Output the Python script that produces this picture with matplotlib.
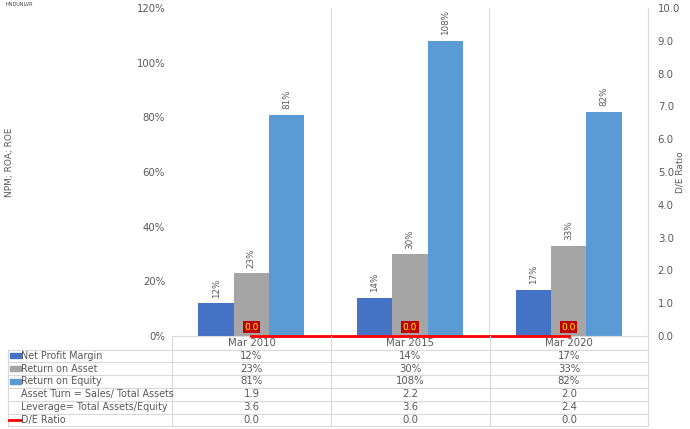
import numpy as np
import matplotlib.pyplot as plt
from matplotlib.lines import Line2D
from matplotlib.patches import Rectangle

periods = ['Mar 2010', 'Mar 2015', 'Mar 2020']
npm = [12, 14, 17]
roa = [23, 30, 33]
roe = [81, 108, 82]
asset_turn = [1.9, 2.2, 2.0]
leverage = [3.6, 3.6, 2.4]
de_ratio = [0.0, 0.0, 0.0]

C_NPM = '#4472C4'
C_ROA = '#A5A5A5'
C_ROE = '#5B9BD5'
C_DE = '#FF0000'
TXT = '#595959'
GRID = '#D9D9D9'

W, H = 690, 429
plt.rcParams['font.family'] = ['DejaVu Sans']

fig = plt.figure(figsize=(6.9, 4.29), dpi=100)

def fx(px):
    return px / W

def fy(py):
    return 1 - py / H

L, R, T, B = 172, 648, 8, 336
ax = fig.add_axes([fx(L), fy(B), fx(R) - fx(L), fy(T) - fy(B)])
x = np.arange(len(periods))
bw = 0.222
ax.bar(x - bw, npm, bw, color=C_NPM, zorder=2)
ax.bar(x, roa, bw, color=C_ROA, zorder=2)
ax.bar(x + bw, roe, bw, color=C_ROE, zorder=2)

for off, vals in [(-bw, npm), (0, roa), (bw, roe)]:
    for xi, v in zip(x, vals):
        ax.text(xi + off, v + 2, f'{v}%', rotation=90, ha='center', va='bottom',
                fontsize=6.3, color=TXT)

ax.set_xlim(-0.5, 2.5)
ax.set_ylim(0, 120)
ax.set_yticks(range(0, 121, 20))
ax.set_yticklabels([f'{t}%' for t in range(0, 121, 20)])
ax.set_xticks([])
for xb in [0.5, 1.5]:
    ax.axvline(xb, color=GRID, lw=0.8, zorder=0)
for s in ['top', 'right', 'left']:
    ax.spines[s].set_visible(False)
ax.spines['bottom'].set_color(GRID)
ax.tick_params(axis='y', length=0, labelsize=7.3, labelcolor=TXT, pad=5)

ax2 = ax.twinx()
ax2.set_ylim(0, 10)
ax2.set_yticks(range(0, 11))
ax2.set_yticklabels([f'{t:.1f}' for t in range(0, 11)])
ax2.tick_params(axis='y', length=0, labelsize=7.3, labelcolor=TXT, pad=7)
for s in ['top', 'left', 'bottom']:
    ax2.spines[s].set_visible(False)
ax2.spines['right'].set_color(GRID)
ax2.plot(x, de_ratio, color=C_DE, lw=2, zorder=3, clip_on=False)
for xi, v in zip(x, de_ratio):
    ax2.text(xi, v + 0.27, f'{v:.1f}', ha='center', va='center', fontsize=6.5,
             color='#FFFF00', bbox=dict(boxstyle='square,pad=0.15', fc='#C00000', ec='none'),
             zorder=4)

fig.text(fx(10), fy(162), 'NPM; ROA; ROE', rotation=90, ha='center', va='center',
         fontsize=6.5, color=TXT)
fig.text(fx(680), fy(172), 'D/E Ratio', rotation=90, ha='center', va='center',
         fontsize=6.5, color=TXT)
fig.text(fx(5), fy(4), 'HNDUNLVR', fontsize=3.5, color='#404040', va='center')

# data table under the chart
tab = fig.add_axes([0, 0, 1, 1], facecolor='none')
tab.set_xlim(0, W)
tab.set_ylim(H, 0)
tab.axis('off')

rows = [
    ('Net Profit Margin', [f'{v}%' for v in npm], 'bar', C_NPM),
    ('Return on Asset', [f'{v}%' for v in roa], 'bar', C_ROA),
    ('Return on Equity', [f'{v}%' for v in roe], 'bar', C_ROE),
    ('Asset Turn = Sales/ Total Assets', [f'{v:.1f}' for v in asset_turn], None, None),
    ('Leverage= Total Assets/Equity', [f'{v:.1f}' for v in leverage], None, None),
    ('D/E Ratio', [f'{v:.1f}' for v in de_ratio], 'line', C_DE),
]
col_edges = [L, 331, 490, R]
centers = [(a + b) / 2 for a, b in zip(col_edges[:-1], col_edges[1:])]
top_row = 349.5
rh = 12.8
bottom_row = top_row + rh * len(rows)

for c, p in zip(centers, periods):
    tab.text(c, 343, p, ha='center', va='center', fontsize=7.3, color=TXT)
for xe in col_edges:
    tab.plot([xe, xe], [B, bottom_row], color=GRID, lw=0.8)
tab.plot([8, 8], [top_row, bottom_row], color=GRID, lw=0.8)
for i in range(len(rows) + 1):
    yl = top_row + i * rh
    tab.plot([8, R], [yl, yl], color=GRID, lw=0.8)

for i, (name, vals, kind, col) in enumerate(rows):
    yc = top_row + (i + 0.5) * rh
    if kind == 'bar':
        tab.add_patch(Rectangle((10, yc - 2.5), 11, 5, color=col))
    elif kind == 'line':
        tab.add_line(Line2D([9, 21], [yc, yc], color=col, lw=2))
    tab.text(21, yc, name, ha='left', va='center', fontsize=6.9, color=TXT)
    for c, v in zip(centers, vals):
        tab.text(c, yc, v, ha='center', va='center', fontsize=7.3, color=TXT)

fig.savefig('out.png', dpi=100)
